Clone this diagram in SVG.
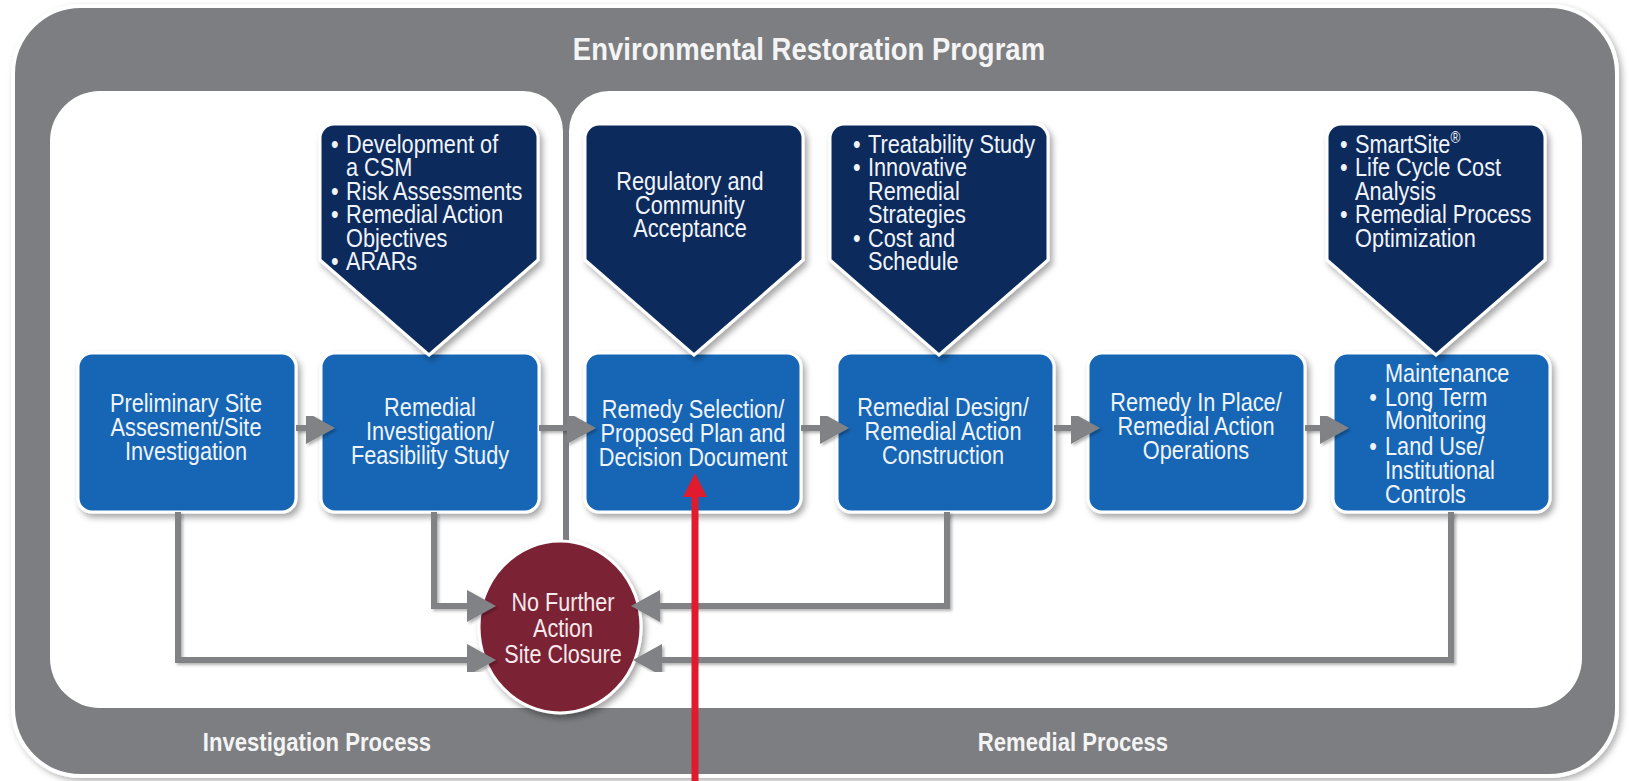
<svg xmlns="http://www.w3.org/2000/svg" width="1629" height="781" viewBox="0 0 1629 781">
  <defs>
    <filter id="sh" x="-10%" y="-10%" width="130%" height="130%">
      <feDropShadow dx="3" dy="4" stdDeviation="3" flood-color="#000" flood-opacity="0.35"/>
    </filter>
    <filter id="shLine" x="-5%" y="-5%" width="110%" height="110%">
      <feDropShadow dx="2" dy="2" stdDeviation="1.5" flood-color="#000" flood-opacity="0.3"/>
    </filter>
    <filter id="shFrame" x="-2%" y="-2%" width="104%" height="104%">
      <feDropShadow dx="3" dy="3" stdDeviation="3" flood-color="#000" flood-opacity="0.3"/>
    </filter>
    <marker id="ah" viewBox="0 0 29 32" refX="19" refY="16" markerWidth="29" markerHeight="32" markerUnits="userSpaceOnUse" orient="auto">
      <path d="M0,0 L29,16 L0,32 Z" fill="#808285"/>
    </marker>
    <marker id="ahRed" viewBox="0 0 24 24" refX="14" refY="12" markerWidth="24" markerHeight="24" markerUnits="userSpaceOnUse" orient="auto">
      <path d="M0,0 L24,12 L0,24 Z" fill="#e01b2d"/>
    </marker>
  </defs>
  <style>
    .frame{fill:#7c7e81;stroke:#ffffff;stroke-width:4}
    .panel{fill:#ffffff}
    .box{fill:#1766b5;stroke:#ffffff;stroke-width:3}
    .tag{fill:#0c2c5c;stroke:#ffffff;stroke-width:3}
    .stop{fill:#7b2435;stroke:#ffffff;stroke-width:3}
    text{font-family:"Liberation Sans",Arial,Helvetica,sans-serif;font-size:26px}
    .c text{text-anchor:middle}
    .w text{fill:#f0f4fa}
    .pk text{fill:#f6e9eb}
    .hd text{fill:#f4f4f4;font-weight:bold}
    .conn{fill:none;stroke:#808285;stroke-width:6;stroke-linejoin:miter}
    .red{fill:none;stroke:#e01b2d;stroke-width:7}
  </style>

  <!-- outer frame and the two process panels -->
  <g id="frame">
    <rect class="frame" x="13" y="6" width="1604" height="770" rx="68" filter="url(#shFrame)"/>
    <path class="panel" d="M50,141 A50,50 0 0 1 100,91 H523 A40,40 0 0 1 563,131 V708 H100 A50,50 0 0 1 50,658 Z"/>
    <path class="panel" d="M569,131 A40,40 0 0 1 609,91 H1532 A50,50 0 0 1 1582,141 V658 A50,50 0 0 1 1532,708 H569 Z"/>
    <g class="hd c">
      <g transform="translate(809 0) scale(0.86 1)"><text x="0" y="60" style="font-size:32px">Environmental Restoration Program</text></g>
      <g transform="translate(317 0) scale(0.85 1)"><text x="0" y="751">Investigation Process</text></g>
      <g transform="translate(1073 0) scale(0.85 1)"><text x="0" y="751">Remedial Process</text></g>
    </g>
  </g>

  <!-- process steps -->
  <g id="step-prelim" class="w c">
    <rect class="box" x="78" y="353" width="218" height="159" rx="14" filter="url(#sh)"/>
    <g transform="translate(186 0) scale(0.836 1)">
      <text x="0" y="412">Preliminary Site</text>
      <text x="0" y="436">Assesment/Site</text>
      <text x="0" y="460">Investigation</text>
    </g>
  </g>
  <g id="step-rifs" class="w c">
    <rect class="box" x="321" y="353" width="218" height="159" rx="14" filter="url(#sh)"/>
    <g transform="translate(430 0) scale(0.836 1)">
      <text x="0" y="416">Remedial</text>
      <text x="0" y="440">Investigation/</text>
      <text x="0" y="464">Feasibility Study</text>
    </g>
  </g>
  <g id="step-remedy-selection" class="w c">
    <rect class="box" x="585" y="353" width="216" height="159" rx="14" filter="url(#sh)"/>
    <g transform="translate(693 0) scale(0.836 1)">
      <text x="0" y="418">Remedy Selection/</text>
      <text x="0" y="442">Proposed Plan and</text>
      <text x="0" y="466">Decision Document</text>
    </g>
  </g>
  <g id="step-design" class="w c">
    <rect class="box" x="837" y="353" width="217" height="159" rx="14" filter="url(#sh)"/>
    <g transform="translate(943 0) scale(0.836 1)">
      <text x="0" y="416">Remedial Design/</text>
      <text x="0" y="440">Remedial Action</text>
      <text x="0" y="464">Construction</text>
    </g>
  </g>
  <g id="step-rip" class="w c">
    <rect class="box" x="1088" y="353" width="217" height="159" rx="14" filter="url(#sh)"/>
    <g transform="translate(1196 0) scale(0.836 1)">
      <text x="0" y="411">Remedy In Place/</text>
      <text x="0" y="435">Remedial Action</text>
      <text x="0" y="459">Operations</text>
    </g>
  </g>
  <g id="step-maintenance" class="w">
    <rect class="box" x="1333" y="353" width="217" height="159" rx="14" filter="url(#sh)"/>
    <g transform="translate(1385 0) scale(0.836 1)">
      <text x="0" y="382">Maintenance</text>
      <text x="-19" y="406">•</text><text x="0" y="406">Long Term</text>
      <text x="0" y="429">Monitoring</text>
      <text x="-19" y="455">•</text><text x="0" y="455">Land Use/</text>
      <text x="0" y="479">Institutional</text>
      <text x="0" y="503">Controls</text>
    </g>
  </g>

  <!-- inputs feeding each step -->
  <g id="input-rifs" class="w">
    <path class="tag" d="M320,138 A14,14 0 0 1 334,124 H524 A14,14 0 0 1 538,138 V260 L429,355 L320,260 Z" filter="url(#sh)"/>
    <g transform="translate(346 0) scale(0.836 1)">
      <text x="-18" y="153">•</text><text x="0" y="153">Development of</text>
      <text x="0" y="176.5">a CSM</text>
      <text x="-18" y="200">•</text><text x="0" y="200">Risk Assessments</text>
      <text x="-18" y="223.5">•</text><text x="0" y="223.5">Remedial Action</text>
      <text x="0" y="247">Objectives</text>
      <text x="-18" y="270.5">•</text><text x="0" y="270.5">ARARs</text>
    </g>
  </g>
  <g id="input-remedy-selection" class="w c">
    <path class="tag" d="M585,138 A14,14 0 0 1 599,124 H789 A14,14 0 0 1 803,138 V260 L694,355 L585,260 Z" filter="url(#sh)"/>
    <g transform="translate(690 0) scale(0.836 1)">
      <text x="0" y="190">Regulatory and</text>
      <text x="0" y="214">Community</text>
      <text x="0" y="237">Acceptance</text>
    </g>
  </g>
  <g id="input-design" class="w">
    <path class="tag" d="M830,138 A14,14 0 0 1 844,124 H1034 A14,14 0 0 1 1048,138 V260 L939,355 L830,260 Z" filter="url(#sh)"/>
    <g transform="translate(868 0) scale(0.836 1)">
      <text x="-18" y="153">•</text><text x="0" y="153">Treatability Study</text>
      <text x="-18" y="176.5">•</text><text x="0" y="176.5">Innovative</text>
      <text x="0" y="200">Remedial</text>
      <text x="0" y="223.5">Strategies</text>
      <text x="-18" y="247">•</text><text x="0" y="247">Cost and</text>
      <text x="0" y="270.5">Schedule</text>
    </g>
  </g>
  <g id="input-maintenance" class="w">
    <path class="tag" d="M1327,138 A14,14 0 0 1 1341,124 H1531 A14,14 0 0 1 1545,138 V260 L1436,355 L1327,260 Z" filter="url(#sh)"/>
    <g transform="translate(1355 0) scale(0.836 1)">
      <text x="-18" y="153">•</text><text x="0" y="153">SmartSite<tspan dy="-10" style="font-size:16px">®</tspan></text>
      <text x="-18" y="176.5">•</text><text x="0" y="176.5">Life Cycle Cost</text>
      <text x="0" y="200">Analysis</text>
      <text x="-18" y="223.5">•</text><text x="0" y="223.5">Remedial Process</text>
      <text x="0" y="247">Optimization</text>
    </g>
  </g>

  <!-- closure outcome -->
  <g id="closure" class="pk c">
    <ellipse class="stop" cx="560" cy="627" rx="81" ry="86" filter="url(#sh)"/>
    <g transform="translate(563 0) scale(0.83 1)">
      <text x="0" y="611">No Further</text>
      <text x="0" y="637">Action</text>
      <text x="0" y="663">Site Closure</text>
    </g>
  </g>

  <!-- flow between steps -->
  <g id="connectors" filter="url(#shLine)">
    <path class="conn" d="M296,428 H325" marker-end="url(#ah)"/>
    <path class="conn" d="M539,428 H586" marker-end="url(#ah)"/>
    <path class="conn" d="M801,428 H839" marker-end="url(#ah)"/>
    <path class="conn" d="M1054,428 H1090" marker-end="url(#ah)"/>
    <path class="conn" d="M1305,428 H1339" marker-end="url(#ah)"/>
    <path class="conn" d="M178,512 V660 H486" marker-end="url(#ah)"/>
    <path class="conn" d="M434,512 V606 H486" marker-end="url(#ah)"/>
    <path class="conn" d="M947,512 V606 H641" marker-end="url(#ah)"/>
    <path class="conn" d="M1451,512 V660 H643" marker-end="url(#ah)"/>
  </g>

  <!-- highlight pointer -->
  <g id="pointer">
    <path class="red" d="M695,781 V483" marker-end="url(#ahRed)"/>
  </g>
</svg>
